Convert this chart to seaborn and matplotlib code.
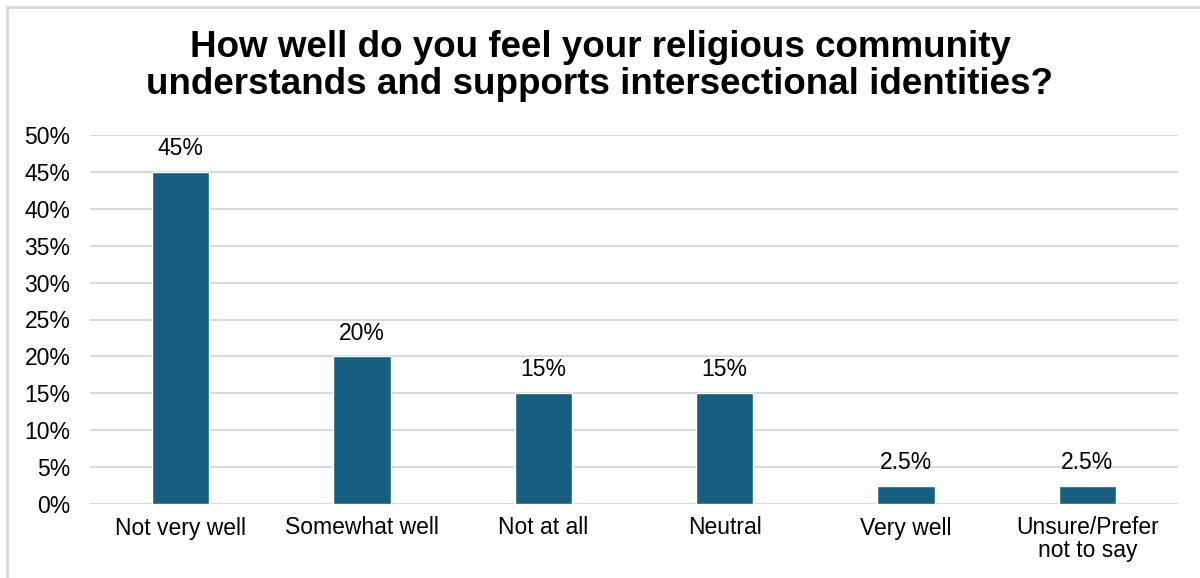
import matplotlib
matplotlib.use("Agg")
import matplotlib.pyplot as plt
import seaborn as sns
import pandas as pd
from matplotlib.patches import Rectangle
from matplotlib.ticker import MultipleLocator, FuncFormatter

categories = ["Not very well", "Somewhat well", "Not at all", "Neutral",
              "Very well", "Unsure/Prefer\nnot to say"]
values = [45, 20, 15, 15, 2.5, 2.5]
value_labels = ["45%", "20%", "15%", "15%", "2.5%", "2.5%"]
title_lines = ["How well do you feel your religious community",
               "understands and supports intersectional identities?"]

sns.set_theme(style="white")
plt.rcParams["font.family"] = ["Liberation Sans", "DejaVu Sans"]
plt.rcParams["text.color"] = "black"

W, H = 1200, 578
df = pd.DataFrame({"category": categories, "value": values})

fig = plt.figure(figsize=(W / 100, H / 100), dpi=100)
ax = fig.add_axes([90 / W, 1 - 504 / H, (1178 - 90) / W, (504 - 135) / H])

sns.barplot(data=df, x="category", y="value", color="#175f80", saturation=1,
            width=0.315, ax=ax, zorder=3)

ax.set_ylim(0, 50)
ax.set_xlim(-0.5, len(categories) - 0.5)
ax.yaxis.set_major_locator(MultipleLocator(5))
ax.yaxis.set_major_formatter(FuncFormatter(lambda v, _: f"{v:.0f}%"))
ax.grid(axis="y", color="#d9d9d9", linewidth=1.5, zorder=0)
ax.grid(axis="x", visible=False)
for s in ax.spines.values():
    s.set_visible(False)
ax.set_xlabel("")
ax.set_ylabel("")
ax.tick_params(axis="y", labelsize=16.5, length=0, pad=14, colors="black")
ax.tick_params(axis="x", labelsize=16.5, length=0, pad=9, colors="black")
for lbl in ax.get_xticklabels():
    lbl.set_linespacing(1.0)

for container in ax.containers:
    ax.bar_label(container, labels=value_labels, padding=8.5, fontsize=16.5,
                 color="black")

for line, base_y in zip(title_lines, [57, 94]):
    fig.text(0.5, 1 - base_y / H, line, ha="center", va="baseline",
             fontsize=26.5, fontweight="bold", color="black")

fig.patches.append(Rectangle((7 / W, -0.1), 1.2, 1 - 7 / H + 0.1,
                             transform=fig.transFigure, fill=False,
                             edgecolor="#d9d9d9", linewidth=2))

fig.savefig("out.png", dpi=100)
